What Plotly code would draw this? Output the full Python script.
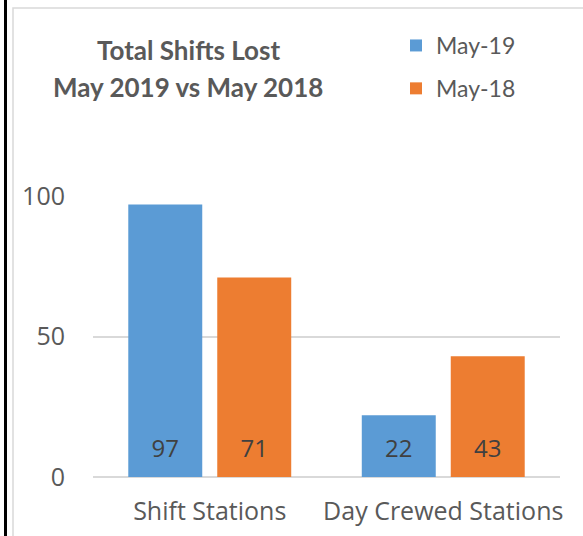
import plotly.graph_objects as go

categories = ["Shift Stations", "Day Crewed Stations"]
series_names = ["May-19", "May-18"]
may19 = [97, 22]
may18 = [71, 43]
tick_vals = [0, 50, 100]
title_lines = ["Total Shifts Lost", "May 2019 vs May 2018"]

W, H = 583, 536
ML, MR, MT, MB = 93, 23, 196, 59
FONT = "Lato"
FONT2 = "Open Sans"
GRAY = "#595959"

fig = go.Figure()
for name, vals, col, grp in [(series_names[0], may19, "#5B9BD5", "a"),
                             (series_names[1], may18, "#ED7D31", "b")]:
    fig.add_trace(go.Bar(
        name=name, x=categories, y=vals, marker=dict(color=col, line=dict(width=0)),
        text=["<span style='font-size:24px'>%d</span><br>&nbsp;" % v for v in vals],
        textposition="inside", insidetextanchor="start",
        textfont=dict(family=FONT2, size=10.5, color="#404040"), legendgroup=grp,
        textangle=0, hoverinfo="x+y+name",
    ))

def px2paper_x(px):
    return (px - ML) / (W - ML - MR)

def px2paper_y(py):
    return (H - MB - py) / (H - MT - MB)

shapes = [
    dict(type="line", xref="paper", yref="paper", x0=px2paper_x(5.5), x1=px2paper_x(5.5),
         y0=px2paper_y(0), y1=px2paper_y(H + 40), line=dict(color="black", width=3)),
    dict(type="rect", xref="paper", yref="paper", x0=px2paper_x(13), x1=px2paper_x(600),
         y0=px2paper_y(8), y1=px2paper_y(H + 40), line=dict(color="#d9d9d9", width=1.5)),
]

fig.update_layout(
    width=W, height=H,
    margin=dict(l=ML, r=MR, t=MT, b=MB, autoexpand=False),
    paper_bgcolor="white", plot_bgcolor="white",
    barmode="group", bargap=0.238, bargroupgap=0.1685,
    font=dict(family=FONT, color=GRAY),
    annotations=[
        dict(text="<b>" + title_lines[0] + "</b>", xref="paper", yref="paper",
             x=px2paper_x(188), y=px2paper_y(50), showarrow=False,
             font=dict(family=FONT, size=26, color=GRAY), xanchor="center", yanchor="middle"),
        dict(text="<b>" + title_lines[1] + "</b>", xref="paper", yref="paper",
             x=px2paper_x(188), y=px2paper_y(87), showarrow=False,
             font=dict(family=FONT, size=26, color=GRAY), xanchor="center", yanchor="middle"),
    ],
    shapes=shapes,
    legend=dict(x=px2paper_x(396), y=px2paper_y(24), xanchor="left", yanchor="top",
                font=dict(family=FONT, size=23, color=GRAY), traceorder="grouped",
                tracegroupgap=10, bgcolor="rgba(0,0,0,0)"),
    xaxis=dict(range=[-0.5, 1.5], showline=False, ticks="", showgrid=False,
               ticklabelstandoff=17, automargin=False,
               tickfont=dict(family=FONT2, size=25, color=GRAY)),
    yaxis=dict(range=[0, 100], tickvals=tick_vals, showgrid=True, gridcolor="#d9d9d9",
               gridwidth=1.5, zeroline=True, zerolinecolor="#d9d9d9", zerolinewidth=1.5,
               showline=False, ticks="", ticklabelstandoff=27, automargin=False,
               tickfont=dict(family=FONT2, size=25, color=GRAY)),
)

fig.write_html("out.html", config={"displayModeBar": False},
               post_script="document.body.style.margin='0';")
